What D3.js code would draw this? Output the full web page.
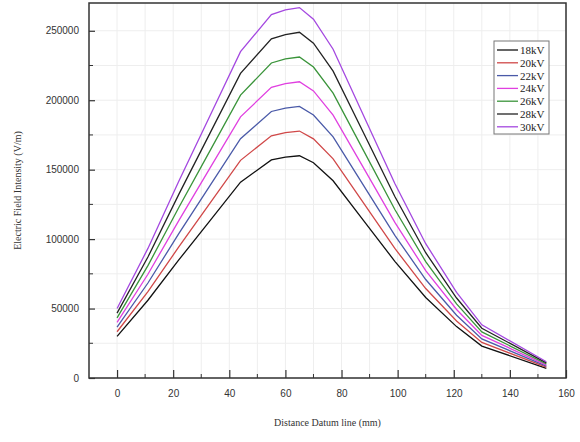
<!DOCTYPE html>
<html>
<head>
<meta charset="utf-8">
<script src="https://cdn.jsdelivr.net/npm/d3@7"></script>
<style>body{margin:0;background:#fff}</style>
</head>
<body>
<div id="chart"></div>
<script>
// distance along the datum line (mm)
var distances = [0, 11, 22, 33, 44, 55, 60, 65, 70, 77, 88, 99, 110, 121, 130, 153];
var v18 = [30000, 56000, 85000, 113000, 141000, 157000, 159000, 160000, 155000, 142000, 113000, 84000, 58000, 37000, 23000, 7000];
var v20 = [33300, 62200, 94400, 125600, 156700, 174400, 176700, 177800, 172200, 157800, 125600, 93300, 64400, 41100, 25600, 7800];
var v22 = [36700, 68400, 103900, 138100, 172300, 191900, 194300, 195600, 189400, 173600, 138100, 102700, 70900, 45200, 28100, 8600];
var v24 = [40000, 74700, 113300, 150700, 188000, 209300, 212000, 213300, 206700, 189300, 150700, 112000, 77300, 49300, 30700, 9300];
var v26 = [43300, 80900, 122800, 163200, 203700, 226800, 229700, 231100, 223900, 205100, 163200, 121300, 83800, 53400, 33200, 10100];
var v28 = [46700, 87100, 132200, 175800, 219300, 244200, 247300, 248900, 241100, 220900, 175800, 130700, 90200, 57600, 35800, 10900];
var v30 = [50000, 93300, 141700, 188300, 235000, 261700, 265000, 266700, 258300, 236700, 188300, 140000, 96700, 61700, 38300, 11700];
var seriesNames = ["18kV", "20kV", "22kV", "24kV", "26kV", "28kV", "30kV"];
var seriesValues = [v18, v20, v22, v24, v26, v28, v30];
var colors = ["#111111", "#d04848", "#4a5aa8", "#e040e0", "#3a943a", "#222222", "#a448e0"];
var xTicks = [0, 20, 40, 60, 80, 100, 120, 140, 160];
var yTicks = [0, 50000, 100000, 150000, 200000, 250000];

var W = 580, H = 442;
var margin = {top: 3, right: 14, bottom: 64, left: 89};

var svg = d3.select("#chart").append("svg")
    .attr("width", W)
    .attr("height", H);

var x = d3.scaleLinear().domain([-10, 160]).range([margin.left, W - margin.right]);
var y = d3.scaleLinear().domain([0, 270000]).range([H - margin.bottom, margin.top]);

// faint grid
svg.selectAll(".gx").data(d3.range(0, 161, 10)).enter().append("line")
    .attr("x1", d => x(d)).attr("x2", d => x(d))
    .attr("y1", y(0)).attr("y2", margin.top)
    .attr("stroke", "#eee");
svg.selectAll(".gy").data(d3.range(0, 270001, 25000)).enter().append("line")
    .attr("x1", x(-10)).attr("x2", x(160))
    .attr("y1", d => y(d)).attr("y2", d => y(d))
    .attr("stroke", "#eee");

// frame
svg.append("rect")
    .attr("x", x(-10)).attr("y", margin.top)
    .attr("width", x(160) - x(-10)).attr("height", y(0) - margin.top)
    .attr("fill", "none").attr("stroke", "#333").attr("stroke-width", 1.5);

var xAxis = svg.append("g")
    .attr("transform", "translate(0," + y(0) + ")")
    .call(d3.axisBottom(x).tickValues(xTicks).tickSize(-8).tickPadding(12));
var yAxis = svg.append("g")
    .attr("transform", "translate(" + x(-10) + ",0)")
    .call(d3.axisLeft(y).tickValues(yTicks).tickFormat(d3.format("d")).tickSize(-6).tickPadding(10));
[xAxis, yAxis].forEach(function(a) {
    a.select(".domain").remove();
    a.selectAll("line").attr("stroke", "#333").attr("stroke-width", 1.2);
    a.selectAll("text").attr("font-family", "Arial, sans-serif").attr("font-size", 10).attr("fill", "#333");
});
// minor ticks
svg.selectAll(".mx").data(d3.range(10, 151, 20)).enter().append("line")
    .attr("x1", d => x(d)).attr("x2", d => x(d))
    .attr("y1", y(0)).attr("y2", y(0) - 4).attr("stroke", "#333");
svg.selectAll(".my").data(d3.range(25000, 270000, 50000)).enter().append("line")
    .attr("x1", x(-10)).attr("x2", x(-10) + 4)
    .attr("y1", d => y(d)).attr("y2", d => y(d)).attr("stroke", "#333");

// curves
var line = d3.line().x((d, i) => x(distances[i])).y(d => y(d));
svg.selectAll(".curve").data(seriesValues).enter().append("path")
    .attr("d", line)
    .attr("fill", "none")
    .attr("stroke", (d, i) => colors[i])
    .attr("stroke-width", 1.3);

// legend
var lg = svg.append("g").attr("transform", "translate(494,41)");
lg.append("rect").attr("width", 55).attr("height", 93)
    .attr("fill", "#fff").attr("stroke", "#777");
seriesNames.forEach(function(n, i) {
    var ly = 9 + i * 12.8;
    lg.append("line").attr("x1", 3).attr("x2", 24).attr("y1", ly).attr("y2", ly)
        .attr("stroke", colors[i]).attr("stroke-width", 1.3);
    lg.append("text").attr("x", 26).attr("y", ly + 4)
        .attr("font-family", "Liberation Serif, serif").attr("font-size", 11)
        .attr("fill", "#222").text(n);
});

// axis titles
svg.append("text")
    .attr("x", (x(-10) + x(160)) / 2).attr("y", 426)
    .attr("text-anchor", "middle")
    .attr("font-family", "Liberation Serif, serif").attr("font-size", 10).attr("fill", "#333")
    .text("Distance Datum line (mm)");
svg.append("text")
    .attr("transform", "rotate(-90)")
    .attr("x", -y(135000)).attr("y", 21)
    .attr("text-anchor", "middle")
    .attr("font-family", "Liberation Serif, serif").attr("font-size", 10).attr("fill", "#333")
    .text("Electric Field Intensity (V/m)");
</script>
</body>
</html>
